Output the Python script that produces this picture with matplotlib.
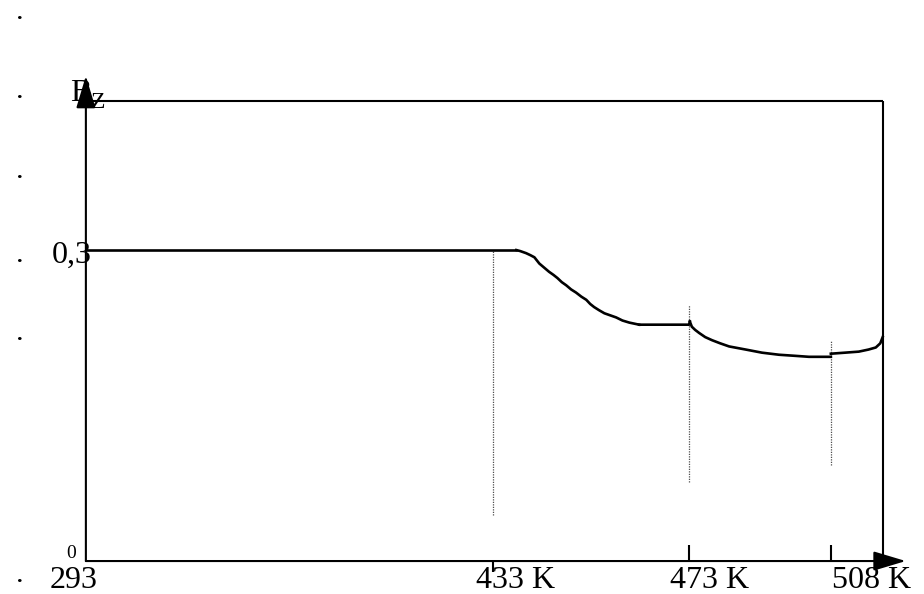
import numpy as np
import matplotlib
matplotlib.use("Agg")
import matplotlib.pyplot as plt

W, H = 924, 594

# temperature axis is not linear in the drawing: ticks sit at fixed places
T_NODES = [263.5, 293, 433, 473, 508, 531]
P_NODES = [-86, 0, 408, 604, 746, 839.3]

# B_z curve (K, B_z)
T_flat = [293.0, 437.7]
B_flat = [0.300, 0.300]

T_drop = [437.7, 438.5, 439.7, 440.6, 441.4, 442.4, 443.4, 444.4, 445.3,
          446.1, 447.0, 447.9, 448.9, 449.9, 451.0, 452.0, 452.8, 453.6,
          454.6, 455.7, 456.9, 458.1, 459.4, 460.8, 462.8]
B_drop = [0.300, 0.299, 0.297, 0.295, 0.293, 0.287, 0.283, 0.279, 0.276,
          0.273, 0.269, 0.266, 0.262, 0.259, 0.255, 0.252, 0.248, 0.245,
          0.242, 0.239, 0.237, 0.235, 0.232, 0.230, 0.228]

T_mid = [462.8, 473.0, 473.2]
B_mid = [0.228, 0.228, 0.231]

T_fall = [473.2, 473.7, 474.5, 475.5, 477.0, 478.7, 480.7, 482.9, 487.0,
          491.0, 495.2, 499.0, 502.6, 508.0]
B_fall = [0.231, 0.226, 0.223, 0.220, 0.216, 0.213, 0.210, 0.207, 0.204,
          0.201, 0.199, 0.198, 0.197, 0.197]

T_rise = [508.0, 511.5, 514.9, 517.3, 519.1, 520.2, 520.8]
B_rise = [0.200, 0.201, 0.202, 0.204, 0.206, 0.210, 0.216]

# dotted guide lines (T, B from, B to)
guide_T = [433, 473, 508]
guide_lo = [0.044, 0.076, 0.093]
guide_hi = [0.300, 0.247, 0.213]

tick_labels = ["293", "433 K", "473 K", "508 K"]

B_TOP = 0.444
T_RIGHT = 520.8


def fwd(t):
    return np.interp(t, T_NODES, P_NODES)


def inv(p):
    return np.interp(p, P_NODES, T_NODES)


def px(x, y):
    return x / W, 1 - y / H


plt.rcParams["font.family"] = ["Liberation Serif", "DejaVu Serif"]

fig = plt.figure(figsize=(W / 100, H / 100), dpi=100)
ax = fig.add_axes([0, 0, 1, 1])
ax.set_xscale("function", functions=(fwd, inv))
ax.set_xlim(263.5, 531)
ax.set_ylim(-0.0318, 0.5412)
ax.axis("off")

k = dict(color="black", lw=1.5, solid_capstyle="butt")

# frame lines
ax.plot([293, T_RIGHT], [B_TOP, B_TOP], **k)
ax.plot([T_RIGHT, T_RIGHT], [0, B_TOP], **k)

# axes with arrow heads
arrow = dict(arrowstyle="-|>,head_length=1.0,head_width=0.3",
             color="black", lw=1.5, mutation_scale=20, shrinkA=0, shrinkB=0)
ax.annotate("", xy=(526.5, 0), xytext=(293, 0), arrowprops=arrow)
ax.annotate("", xy=(293, 0.468), xytext=(293, 0), arrowprops=arrow)

# small ticks
ax.plot([473, 473], [0, 0.0154], **k)
ax.plot([508, 508], [0, 0.0154], **k)
ax.plot([433, 433], [0, -0.0106], **k)

# dotted guides
for t, lo, hi in zip(guide_T, guide_lo, guide_hi):
    ax.plot([t, t], [lo, hi], color="0.3", lw=0.9, ls=(0, (1, 1)))

# curve
c = dict(color="black", lw=1.9)
ax.plot(T_flat, B_flat, **c)
ax.plot(T_drop, B_drop, **c)
ax.plot(T_mid, B_mid, **c)
ax.plot(T_fall, B_fall, **c)
ax.plot(T_rise, B_rise, **c)

fs = 23

# tick labels
label_px = [50, 476, 670, 832]
for lab, x in zip(tick_labels, label_px):
    fig.text(*px(x, 588), lab, fontsize=fs, ha="left", va="baseline")

fig.text(*px(52, 263), "0,3", fontsize=fs, ha="left", va="baseline")
fig.text(*px(66, 558), "0", fontsize=14, ha="left", va="baseline")
fig.text(*px(70, 101), "B", fontsize=fs, ha="left", va="baseline")
fig.text(*px(91, 108), "Z", fontsize=17, ha="left", va="baseline")

# stray dots down the left margin
for y in [19, 98, 178, 262, 340, 582]:
    fig.text(*px(20, y), ".", fontsize=16, fontweight="bold",
             ha="center", va="baseline")

fig.savefig("out.png", dpi=100)
